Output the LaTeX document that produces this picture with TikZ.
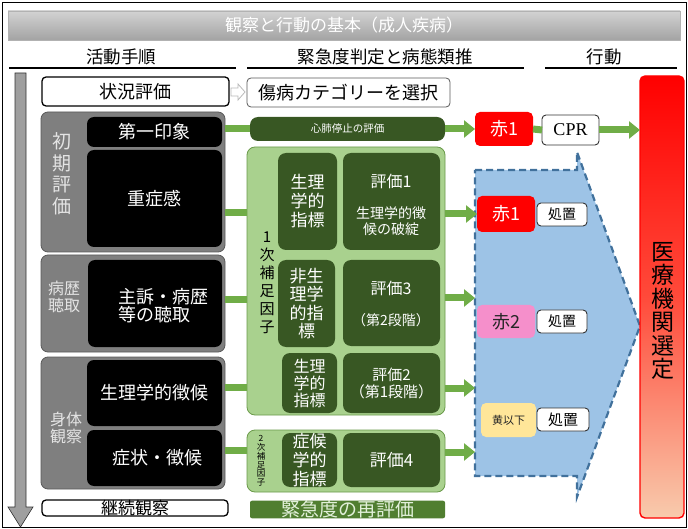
\documentclass[tikz,border=0pt]{standalone}
\usepackage{fontspec}
\newfontfamily\jp{Noto Sans CJK JP}
\newfontfamily\tms{Liberation Serif}
\usetikzlibrary{arrows.meta}
\definecolor{ggrp}{HTML}{7F7F7F}
\definecolor{ggrpline}{HTML}{595959}
\definecolor{glab}{HTML}{E4E4E4}
\definecolor{lgreen}{HTML}{A9D18E}
\definecolor{lgreenline}{HTML}{6A9A4A}
\definecolor{dgreen}{HTML}{385723}
\definecolor{mgreen}{HTML}{507E30}
\definecolor{pgreen}{HTML}{E2F0D9}
\definecolor{cgreen}{HTML}{70AD47}
\definecolor{bfill}{HTML}{9DC3E6}
\definecolor{bline}{HTML}{41719C}
\definecolor{pinkc}{HTML}{F58FCB}
\definecolor{yel}{HTML}{FFE699}
\definecolor{peach}{HTML}{F8CBAD}
\definecolor{midred}{HTML}{FF4A3A}
\newcommand\fs[2]{\fontsize{#1}{#2}\selectfont}
\newcommand\bx[7]{\node[#1,minimum width={(#5-#3)*1pt},minimum height={(#6-#4)*1pt}] (#2) at ({(#3+#5)/2},{(#4+#6)/2}) {#7};}
\tikzset{
  every node/.style={inner sep=0pt,outer sep=0pt,align=center,font=\jp},
  titlebar/.style={top color=gray!35,bottom color=gray!72,draw=gray!60,text=white,font=\jp\fs{17}{17}},
  hdr/.style={font=\jp\fs{17.5}{17.5}},
  hline/.style={line width=1.3pt},
  wbox/.style={draw=black,line width=1.3pt,fill=white,rounded corners=4pt},
  wbox2/.style={draw=gray!70!black,line width=0.8pt,fill=white,rounded corners=4pt},
  grp/.style={fill=ggrp,draw=ggrpline,line width=0.8pt,rounded corners=7pt},
  blk/.style={fill=black,rounded corners=7pt,text=white,font=\jp\fs{18}{18}},
  glabel/.style={text=glab},
  wtext/.style={text=white},
  lgrp/.style={fill=lgreen,draw=lgreenline,line width=0.8pt,rounded corners=8pt},
  dg/.style={fill=dgreen,rounded corners=8pt,text=white},
  rebar/.style={fill=mgreen,rounded corners=2pt,text=pgreen,font=\jp\fs{19}{19}},
  redt/.style={fill=red,rounded corners=5pt,text=white,font=\jp\fs{18}{18}},
  pinkt/.style={fill=pinkc,rounded corners=5pt,text=black!85,font=\jp\fs{18}{18}},
  yelt/.style={fill=yel,rounded corners=5pt,text=black!85,font=\jp\fs{11}{11}},
  wsm/.style={draw=black!80,line width=0.9pt,fill=white,rounded corners=4pt,font=\jp\fs{14}{14}},
  bigred/.style={top color=red,bottom color=peach,middle color=midred,draw=red,line width=1.4pt,rounded corners=5pt},
  gline/.style={draw=cgreen,line width=7pt},
  garrow/.style={draw=cgreen,line width=7pt,-{Triangle[width=17pt,length=11pt]}},
}
\begin{document}
\begin{tikzpicture}[x=1pt,y=-1pt]
\useasboundingbox (0,0) rectangle (688,529);
\draw[line width=0.8pt] (2,2) rectangle (686,527);

% title and headers
\bx{titlebar}{title}{8}{11}{680}{40}{観察と行動の基本（成人疾病）}
\node[hdr] (h1) at (121,57) {活動手順};
\node[hdr] (h2) at (385,57) {緊急度判定と病態類推};
\node[hdr] (h3) at (604,57) {行動};
\draw[hline] (9,68) -- (236,68);
\draw[hline] (247,68) -- (524,68);
\draw[hline] (545,68) -- (677,68);

% left flow arrow
\draw[fill=gray!75,draw=gray!40!black,line width=0.6pt]
  (15,73) -- (26,73) -- (26,507) -- (33,507) -- (20.5,527) -- (8,507) -- (15,507) -- cycle;

% top boxes
\bx{wbox,font=\jp\fs{18}{18}}{sit}{42}{77}{229}{106}{状況評価}
\draw[draw=gray!55,fill=white,line width=0.8pt]
  (231,88) -- (238,88) -- (238,84) -- (245,92) -- (238,100) -- (238,96) -- (231,96) -- cycle;
\bx{wbox2,font=\jp\fs{18}{18}}{cat}{247}{78}{450}{107}{傷病カテゴリーを選択}

% left groups
\bx{grp}{g1}{41}{112}{225}{252}{}
\bx{blk}{fi}{87}{117}{222}{147}{第一印象}
\bx{blk}{sev}{87}{150}{222}{247}{重症感}
\node[glabel,font=\jp\fs{19}{21.5}] (l1) at (62,174) {初\\期\\評\\価};

\bx{grp}{g2}{41}{255}{225}{352}{}
\bx{blk}{hist}{88}{260}{222}{347}{}
\node[wtext,align=left,font=\jp\fs{18}{18}] (histt) at (163,306) {主訴・病歴\\等の聴取};
\node[glabel,font=\jp\fs{16}{17}] (l2) at (64,297) {病歴\\聴取};

\bx{grp}{g3}{41}{357}{225}{489}{}
\bx{blk}{vit}{87}{360}{222}{426}{生理学的徴候}
\bx{blk}{sym}{87}{430}{222}{486}{\hspace*{5pt}症状・徴候}
\node[glabel,font=\jp\fs{16}{17}] (l3) at (66,428) {身体\\観察};

\bx{wbox,font=\jp\fs{17}{17}}{cont}{42}{500}{228}{516}{継続観察}

% middle column
\bx{dg,font=\jp\fs{10.5}{10.5}}{cpa}{250}{117}{445}{141}{心肺停止の評価}
\bx{lgrp}{sup1}{247}{147}{445}{415}{}
\node[font=\jp\fs{15}{18}] (l4) at (267,283) {1\\次\\補\\足\\因\\子};
\bx{dg,font=\jp\fs{17}{19}}{p1}{278}{153}{337}{250}{生理\\学的\\指標}
\bx{dg}{e1}{343}{153}{440}{250}{}
\node[wtext,font=\jp\fs{16}{16}] (e1a) at (391,181) {評価1};
\node[wtext,font=\jp\fs{14}{16.5}] (e1b) at (391,221) {生理学的徴\\候の破綻};
\bx{dg,font=\jp\fs{17}{18.5}}{p2}{278}{260}{335}{347}{非生\\理学\\的指\\標}
\bx{dg}{e3}{343}{260}{440}{346}{}
\node[wtext,font=\jp\fs{16}{16}] (e3a) at (391,288) {評価3};
\node[wtext,font=\jp\fs{14}{14}] (e3b) at (391,320) {（第2段階）};
\bx{dg,font=\jp\fs{16}{17}}{p3}{282}{353}{337}{413}{生理\\学的\\指標}
\bx{dg,font=\jp\fs{15}{17}}{e2}{343}{353}{440}{413}{評価2\\（第1段階）}
\bx{lgrp}{sup2}{247}{430}{445}{492}{}
\node[font=\jp\fs{8.5}{8.8}] (l5) at (261,461) {2\\次\\補\\足\\因\\子};
\bx{dg,font=\jp\fs{17}{19}}{p4}{282}{433}{337}{487}{症候\\学的\\指標}
\bx{dg,font=\jp\fs{17}{17}}{e4}{343}{433}{440}{487}{評価4}
\bx{rebar}{re}{250}{501}{445}{518}{緊急度の再評価}

% blue chevron
\coordinate (bl) at (475,170);
\coordinate (bt) at (577,170);
\coordinate (btt) at (577,152);
\coordinate (btip) at (640,326);
\coordinate (bbb) at (577,497);
\coordinate (bb) at (577,476);
\coordinate (blb) at (475,476);
\fill[bfill] (bl) -- (bt) -- (btt) -- (btip) -- (bbb) -- (bb) -- (blb) -- cycle;
\draw[bline,line width=2.2pt,dash pattern=on 7pt off 4pt] (bl) -- (bt) -- (btt) -- (btip) -- (bbb) -- (bb) -- (blb) -- cycle;

% right column
\bx{redt}{r1}{475}{112}{533}{146}{赤1}
\bx{wsm,font=\tms\fs{18}{18}}{cpr}{542}{115}{599}{145}{CPR}
\bx{redt}{r1b}{477}{196}{535}{232}{赤1}
\bx{wsm}{t1}{537}{203}{587}{226}{処置}
\bx{pinkt}{r2}{477}{305}{535}{338}{赤2}
\bx{wsm}{t2}{537}{310}{587}{333}{処置}
\bx{yelt}{y1}{481}{403}{536}{437}{黄以下}
\bx{wsm,font=\jp\fs{15}{15}}{t3}{537}{408}{589}{431}{処置}
\bx{bigred}{hosp}{640}{76}{684}{518}{}
\node[font=\jp\fs{23}{23.5}] (hospt) at (663,311) {医\\療\\機\\関\\選\\定};

% connectors left -> middle
\coordinate (y213) at (0,213);
\coordinate (y300) at (0,300);
\coordinate (y387) at (0,387);
\coordinate (y450) at (0,450);
\coordinate (y298) at (0,298);
\coordinate (y388) at (0,388);
\coordinate (y452) at (0,452);
\draw[gline] (g1.east |- cpa.west) -- (cpa.west);
\draw[gline] (g1.east |- y213) -- (sup1.west |- y213);
\draw[gline] (g2.east |- y300) -- (sup1.west |- y300);
\draw[gline] (g3.east |- y387) -- (sup1.west |- y387);
\draw[gline] (g3.east |- y450) -- (sup2.west |- y450);

% connectors middle -> right
\draw[garrow] (cpa.east) -- (r1.west);
\draw[gline] (r1.east) -- (cpr.west);
\draw[garrow] (cpr.east) -- (hosp.west |- cpr.east);
\draw[garrow] (sup1.east |- r1b.west) -- (r1b.west);
\draw[garrow] (sup1.east |- y298) -- (bl |- y298);
\draw[garrow] (sup1.east |- y388) -- (bl |- y388);
\draw[garrow] (sup2.east |- y452) -- (bl |- y452);
\end{tikzpicture}
\end{document}
